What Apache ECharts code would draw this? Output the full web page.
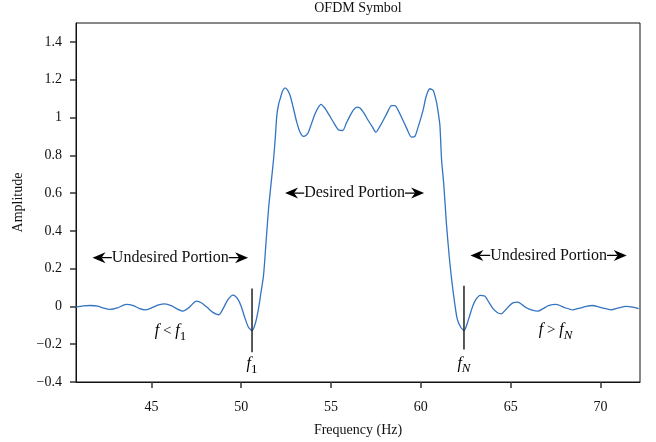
<!DOCTYPE html>
<html>
<head>
<meta charset="utf-8">
<script src="https://cdn.jsdelivr.net/npm/echarts@6/dist/echarts.min.js"></script>
<style>
  html, body { margin: 0; padding: 0; background: #fff; }
  #chart { width: 656px; height: 442px; }
</style>
</head>
<body>
<div id="chart"></div>
<script>
// Spectrum of an OFDM symbol: frequency (Hz) vs. amplitude
const freq = [
  40.8, 41.2, 41.6, 42.0, 42.3, 42.7, 43.1, 43.6, 44.0, 44.3, 44.65, 45.0, 45.4, 45.75,
  46.1, 46.4, 46.75, 47.1, 47.5, 47.8, 48.1, 48.4, 48.75, 49.0, 49.25, 49.55, 49.8, 50.0,
  50.2, 50.4, 50.6, 50.8, 50.96, 51.1, 51.24, 51.38, 51.52, 51.66, 51.8, 51.9, 51.98, 52.08,
  52.17, 52.3, 52.44, 52.58, 52.72, 52.9, 53.09, 53.28, 53.46, 53.6, 53.74, 53.92, 54.11, 54.27,
  54.44, 54.65, 54.85, 55.1, 55.41, 55.65, 55.85, 56.06, 56.25, 56.43, 56.61, 56.85, 57.07, 57.3,
  57.5, 57.7, 57.9, 58.15, 58.37, 58.56, 58.75, 58.93, 59.2, 59.48, 59.67, 59.85, 60.04, 60.15,
  60.26, 60.38, 60.5, 60.69, 60.87, 60.96, 61.06, 61.15, 61.28, 61.43, 61.61, 61.8, 62.02, 62.21,
  62.41, 62.55, 62.72, 62.9, 63.05, 63.3, 63.55, 63.8, 64.02, 64.25, 64.48, 64.7, 64.94, 65.15,
  65.4, 65.65, 65.87, 66.2, 66.51, 66.8, 67.1, 67.53, 68.0, 68.46, 68.9, 69.2, 69.57, 70.1,
  70.59, 71.0, 71.42, 71.8, 72.13
];
const amp = [
  -0.004, 0.003, 0.005, 0.002, -0.008, -0.016, -0.008, 0.011, 0.004, -0.010, -0.018, -0.008, 0.008, 0.014,
  0.004, -0.012, -0.025, -0.005, 0.028, 0.018, -0.005, -0.030, -0.044, -0.010, 0.035, 0.060, 0.040, 0.000,
  -0.060, -0.110, -0.128, -0.085, -0.012, 0.075, 0.164, 0.340, 0.517, 0.650, 0.780, 0.900, 1.010, 1.070,
  1.100, 1.140, 1.157, 1.145, 1.116, 1.050, 0.975, 0.920, 0.900, 0.905, 0.922, 0.970, 1.020, 1.050,
  1.069, 1.050, 1.020, 0.980, 0.935, 0.931, 0.970, 1.010, 1.040, 1.055, 1.050, 1.020, 0.984, 0.950,
  0.922, 0.950, 0.984, 1.030, 1.063, 1.063, 1.035, 1.000, 0.945, 0.896, 0.900, 0.950, 1.010, 1.050,
  1.099, 1.135, 1.152, 1.143, 1.081, 1.030, 0.958, 0.780, 0.640, 0.429, 0.234, 0.076, -0.065, -0.109,
  -0.127, -0.100, -0.048, 0.005, 0.035, 0.058, 0.055, 0.020, -0.012, -0.032, -0.039, -0.020, 0.005, 0.020,
  0.023, 0.008, -0.007, -0.020, -0.025, -0.012, 0.004, 0.011, -0.006, -0.018, -0.008, 0.000, 0.005, -0.008,
  -0.018, -0.008, 0.000, -0.004, -0.012
];

const xTicks = [45, 50, 55, 60, 65, 70];
const yTicks = [-0.4, -0.2, 0, 0.2, 0.4, 0.6, 0.8, 1, 1.2, 1.4];

// Band annotations: double-headed arrows with a caption
const spanLabels = ['Undesired Portion', 'Desired Portion', 'Undesired Portion'];
const spanStart = [41.72, 52.44, 62.76];
const spanEnd = [50.38, 60.18, 71.46];
const spanLevel = [0.258, 0.60, 0.27];

// Band edge markers f1 and fN
const edgeFreq = [50.6, 62.4];
const edgeTop = [0.095, 0.11];
const edgeBottom = [-0.243, -0.228];
const edgeLabelLevel = [-0.316, -0.312];
const edgeLabels = ['{i|f}{s|1}', '{i|f}{si|N}'];

// Region notes f < f1 and f > fN
const noteFreq = [46.06, 67.5];
const noteLevel = [-0.141, -0.136];
const noteLabels = ['{i|f}{n| < }{i|f}{s|1}', '{i|f}{n| > }{i|f}{si|N}'];

const SERIF = '"Liberation Serif", "DejaVu Serif", serif';
const mathRich = {
  i: { fontFamily: SERIF, fontSize: 16, fontStyle: 'italic', color: '#111', verticalAlign: 'top' },
  n: { fontFamily: SERIF, fontSize: 15, color: '#111', verticalAlign: 'top' },
  s: { fontFamily: SERIF, fontSize: 13, color: '#111', padding: [7, 0, 0, 0], verticalAlign: 'top' },
  si: { fontFamily: SERIF, fontSize: 13, fontStyle: 'italic', color: '#111', padding: [7, 0, 0, 0], verticalAlign: 'top' }
};

const fmt = v => (Number(v) === 0 ? '0' : String(Number(v)).replace('-', '\u2212'));

const chart = echarts.init(document.getElementById('chart'), null, { renderer: 'canvas' });

chart.setOption({
  animation: false,
  backgroundColor: '#fff',
  title: {
    text: 'OFDM Symbol',
    left: 358,
    top: 1,
    padding: 0,
    textAlign: 'center',
    textStyle: { fontFamily: SERIF, fontSize: 14, fontWeight: 'normal', color: '#111' }
  },
  grid: {
    left: 76, right: 16, top: 23, bottom: 60,
    show: true, borderColor: '#111', borderWidth: 1, backgroundColor: 'transparent'
  },
  xAxis: {
    type: 'value',
    min: 40.8, max: 72.2,
    name: 'Frequency (Hz)',
    nameLocation: 'middle',
    nameGap: 41,
    nameTextStyle: { fontFamily: SERIF, fontSize: 14, color: '#111' },
    axisLine: { onZero: false, lineStyle: { color: '#111', width: 1 } },
    axisTick: { customValues: xTicks, length: 6, lineStyle: { color: '#333', width: 1.5 } },
    axisLabel: { customValues: xTicks, margin: 18, fontFamily: SERIF, fontSize: 14, color: '#111', formatter: fmt },
    splitLine: { show: false }
  },
  yAxis: {
    type: 'value',
    min: -0.4, max: 1.5,
    name: 'Amplitude',
    nameLocation: 'middle',
    nameGap: 47,
    nameTextStyle: { fontFamily: SERIF, fontSize: 14, color: '#111' },
    axisLine: { onZero: false, lineStyle: { color: '#111', width: 1 } },
    axisTick: { customValues: yTicks, length: 6, lineStyle: { color: '#333', width: 1.5 } },
    axisLabel: { customValues: yTicks, margin: 14, fontFamily: SERIF, fontSize: 14, color: '#111', formatter: fmt },
    splitLine: { show: false }
  },
  series: [
    {
      name: 'Amplitude',
      type: 'line',
      data: freq.map((f, k) => [f, amp[k]]),
      showSymbol: false,
      smooth: 0.25,
      lineStyle: { color: '#3474c0', width: 1.3 },
      z: 3
    },
    {
      // double-headed arrows with captions
      type: 'custom',
      silent: true,
      z: 5,
      data: spanLabels.map((_, k) => [spanStart[k], spanEnd[k], spanLevel[k], k]),
      encode: { x: [0, 1], y: 2 },
      renderItem: (params, api) => {
        const k = api.value(3);
        const a = api.coord([api.value(0), api.value(2)]);
        const b = api.coord([api.value(1), api.value(2)]);
        const y = a[1];
        const L = 13, H = 5.5, back = 9;
        return {
          type: 'group',
          children: [
            { type: 'line', shape: { x1: a[0] + back, y1: y, x2: b[0] - back, y2: y },
              style: { stroke: '#000', lineWidth: 1.3 } },
            { type: 'polygon', shape: { points: [[a[0], y], [a[0] + L, y - H], [a[0] + back, y], [a[0] + L, y + H]] },
              style: { fill: '#000' } },
            { type: 'polygon', shape: { points: [[b[0], y], [b[0] - L, y - H], [b[0] - back, y], [b[0] - L, y + H]] },
              style: { fill: '#000' } },
            { type: 'text', x: (a[0] + b[0]) / 2, y: y,
              style: { text: spanLabels[k], fontFamily: SERIF, fontSize: 16, fill: '#111',
                       align: 'center', verticalAlign: 'middle', backgroundColor: '#fff', padding: [0, 0] } }
          ]
        };
      }
    },
    {
      // band edge markers
      type: 'custom',
      silent: true,
      z: 4,
      data: edgeFreq.map((f, k) => [f, edgeTop[k], edgeBottom[k], edgeLabelLevel[k], k]),
      encode: { x: 0, y: [1, 2] },
      renderItem: (params, api) => {
        const k = api.value(4);
        const t = api.coord([api.value(0), api.value(1)]);
        const btm = api.coord([api.value(0), api.value(2)]);
        const lab = api.coord([api.value(0), api.value(3)]);
        return {
          type: 'group',
          children: [
            { type: 'line', shape: { x1: t[0], y1: t[1], x2: btm[0], y2: btm[1] },
              style: { stroke: '#222', lineWidth: 1.5 } },
            { type: 'text', x: lab[0], y: lab[1],
              style: { text: edgeLabels[k], rich: mathRich, align: 'center', verticalAlign: 'middle' } }
          ]
        };
      }
    },
    {
      // region notes
      type: 'custom',
      silent: true,
      z: 4,
      data: noteFreq.map((f, k) => [f, noteLevel[k], k]),
      encode: { x: 0, y: 1 },
      renderItem: (params, api) => {
        const k = api.value(2);
        const p = api.coord([api.value(0), api.value(1)]);
        return {
          type: 'text', x: p[0], y: p[1],
          style: { text: noteLabels[k], rich: mathRich, align: 'center', verticalAlign: 'middle' }
        };
      }
    }
  ]
});
</script>
</body>
</html>
